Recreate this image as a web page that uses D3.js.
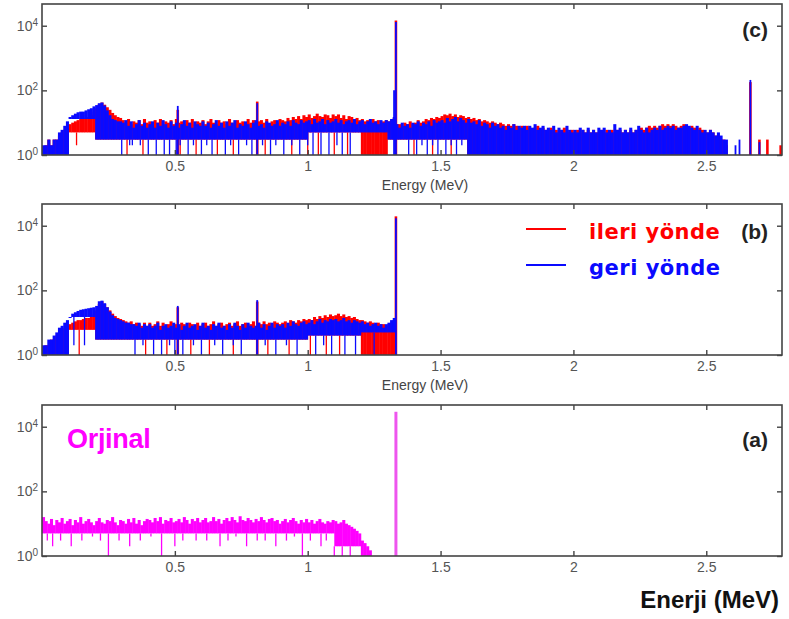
<!DOCTYPE html>
<html>
<head>
<meta charset="utf-8">
<script src="https://cdn.jsdelivr.net/npm/d3@7"></script>
<style>
  body { margin: 0; background: #fff; }
  svg { display: block; font-family: "Liberation Sans", Arial, sans-serif; }
  .axis path { display: none; }
  .axis line { stroke: #444; stroke-width: 1.4; }
  .axis text { fill: #555; font-size: 14px; }
</style>
</head>
<body>
<script>
// spectra are histograms with 0.01 MeV bins starting at 0 MeV (counts per bin)
// the band bottoms ("floor") are read per 0.1 MeV
let binWidth = 0.01;
let floorStep = 0.1;

let xTicks = [0.5, 1, 1.5, 2, 2.5];
let yTicks = [1, 100, 10000];

// ---- (c) ----
let cBlueTop = [
  2,2,3,2,3,3,5,6,8,11, 15,17,19,21,22,22,24,26,28,32, 35,40,42,34,24,17,13,12,11,11,
  10,12,8,11,7,9,12,8,10,7, 9,11,7,10,8,12,9,7,11,8, 10,7,9,12,8,10,7,11,9,8,
  11,8,10,7,9,12,8,10,7,11, 8,10,12,7,9,8,11,9,7,10, 12,8,9,7,11,10,8,9,12,8,
  10,9,11,8,12,10,9,12,10,11, 12,9,13,10,11,13,9,12,10,11, 13,10,12,9,11,12,10,13,9,11,
  12,9,11,13,10,11,9,12,10,12, 11,13,15,9,7,10,8,9,7,10, 9,11,8,10,9,11,8,12,10,11,
  12,10,14,11,13,15,11,14,12,10, 13,10,11,9,12,8,10,9,7,10, 8,9,7,8,6,8,7,9,6,8,
  7,8,6,8,7,9,6,7,8,6, 7,6,8,5,7,6,5,8,6,5, 6,5,7,6,5,7,5,6,5,7,
  6,7,5,6,5,9,6,7,5,6, 5,7,5,6,8,6,5,7,5,6, 7,6,8,6,7,8,7,8,6,7,
  7,8,9,8,7,6,8,6,5,6, 5,6,5,4,5,4,3,3
];
let cRedTop = [
  1,2,3,2,3,3,4,5,6,7, 9,10,11,12,13,13,14,15,17,22, 28,38,42,36,30,25,20,17,15,14,
  12,10,13,9,11,10,12,9,13,10, 11,9,12,10,13,9,11,10,12,9, 13,10,11,9,12,10,13,9,11,10,
  12,9,11,13,10,9,12,10,11,9, 13,10,9,12,10,11,9,13,10,12, 9,11,12,10,13,9,11,12,10,13,
  12,11,14,12,15,13,16,13,17,15, 18,14,16,19,16,15,18,17,14,18, 16,18,14,17,13,16,15,13,14,12,
  13,11,12,10,13,11,12,9,11,12, 11,12,14,9,9,8,10,9,11,9, 10,12,10,11,13,12,14,13,15,14,
  16,18,17,19,16,18,15,17,16,14, 15,13,14,12,13,11,12,11,10,11, 10,9,10,9,8,9,8,9,8,7,
  8,7,8,7,6,7,8,6,7,6, 6,7,6,6,5,6,7,6,5,6, 5,6,5,6,5,6,5,6,5,5,
  6,5,6,5,6,5,6,6,5,6, 5,6,5,6,6,7,6,7,8,7, 8,7,8,9,8,9,8,9,8,7,
  8,9,8,7,8,7,6,7,6,5, 5,6,5,4,4,3,3,2
];
let cBlueFloor = [1, 13, 3, 3, 3, 3, 3, 3, 3, 3, 5, 5, 5, 3, 3, 3, 1, 1, 1, 1, 1, 1, 1, 1, 1, 1];
let cRedFloor  = [1, 5, 3, 3, 3, 3, 3, 3, 3, 3, 5, 5, 1, 3, 3, 3, 1, 1, 1, 1, 1, 1, 1, 1, 1, 1];
// [energy, lowest count] of the single channels that drop out of the band
let cBlueDips = [[0.09,1],[0.30,1],[0.33,2],[0.34,2],[0.37,2],[0.40,1],[0.43,1],[0.46,1],[0.48,1],
  [0.505,1],[0.52,2],[0.55,1],[0.57,2],[0.60,1],[0.62,2],[0.64,1],[0.69,1],[0.71,2],[0.74,1],
  [0.77,2],[0.79,1],[0.83,2],[0.86,1],[0.88,2],[0.91,1],[0.94,2],[0.97,1],[1.00,2],[1.02,1],
  [1.05,1],[1.08,1],[1.11,2],[1.13,1],[1.16,1],[1.38,1],[1.41,1],[1.43,2],[1.45,1],[1.47,2],
  [1.49,1],[1.52,1],[1.54,2],[1.56,1],[1.58,2]];
let cRedDips = [[0.06,1],[0.13,2],[0.32,1],[0.38,1],[0.52,1],[0.58,1],[0.66,1],[0.72,1],[0.84,1],
  [0.94,1],[1.00,1],[1.04,1],[1.10,1],[1.15,1],[1.40,1],[1.47,1],[1.54,1]];
// [energy, counts] of the narrow lines
let cRedLines = [[0.511,25],[0.81,45],[1.332,14500],[2.666,180],[2.70,3],[2.73,3],[2.78,2]];
let cBlueLines = [[0.511,33],[0.81,40],[1.325,100],[1.332,13000],[2.61,2],[2.625,3],[2.666,210],[2.70,2.5]];

// ---- (b) ----
let bBlueTop = [
  2,2,3,3,4,5,7,8,10,12, 15,19,21,23,25,26,27,28,29,30, 33,46,48,40,30,22,17,14,13,12,
  11,10,10,9,9,8,10,7,9,8, 9,7,8,10,6,8,9,7,8,10, 7,9,6,8,10,7,8,9,6,8,
  10,7,8,6,9,8,10,7,8,6, 9,7,10,8,6,9,7,10,8,7, 8,10,7,9,6,8,10,7,9,8,
  9,7,10,8,11,9,8,10,11,9, 10,12,9,11,13,10,12,11,13,12, 13,11,12,14,11,12,10,12,11,10,
  11,9,10,8,9,10,8,9,7,9, 10,12,14
];
let bRedTop = [
  1,2,2,3,3,4,5,6,7,8, 9,10,11,12,12,13,14,14,15,18, 24,38,46,38,30,24,19,16,14,13,
  12,11,10,11,9,10,9,8,10,8, 10,8,9,11,8,10,8,9,11,8, 9,8,10,9,7,10,9,8,10,8,
  9,10,8,9,11,8,9,10,8,9, 10,8,9,11,8,9,10,8,9,11, 8,10,9,11,9,10,9,11,10,9,
  10,11,9,12,11,10,12,11,13,12, 13,12,15,13,16,14,17,15,18,16, 17,19,16,18,15,16,14,15,13,12,
  12,11,10,11,10,9,10,9,9,8, 9,10,12
];
let bBlueFloor = [1, 15, 3, 3, 3, 3, 3, 3, 3, 3, 4, 4, 5, 5];
let bRedFloor  = [1, 6, 3, 3, 3, 3, 3, 3, 3, 3, 4, 4, 1, 1];
let bBlueDips = [[0.06,1],[0.09,1],[0.12,2],[0.16,2],[0.35,1],[0.38,2],[0.42,1],[0.45,1],[0.48,2],
  [0.50,1],[0.53,1],[0.57,2],[0.60,1],[0.65,2],[0.68,1],[0.72,2],[0.75,1],[0.81,1],[0.84,2],
  [0.88,1],[0.92,2],[0.96,1],[1.03,1],[1.06,2],[1.09,1],[1.14,1],[1.18,1],[1.25,1]];
let bRedDips = [[0.04,1],[0.08,1],[0.14,1],[0.39,1],[0.47,1],[0.56,1],[0.63,1],[0.72,1],[0.85,1],
  [0.93,1],[1.01,1],[1.07,1],[1.12,1]];
let bRedLines = [[0.511,30],[0.81,45],[1.332,19500]];
let bBlueLines = [[0.511,33],[0.81,50],[1.332,17000]];

// ---- (a) ----
let aTop = [
  16,12,10,14,9,13,11,15,10,12, 14,9,13,11,16,10,12,14,11,9, 12,15,11,10,13,12,16,11,9,13,
  12,10,14,11,15,10,13,9,12,14, 13,11,15,12,16,10,13,12,15,11, 12,14,11,16,13,10,14,12,15,11,
  13,15,11,12,16,12,14,10,13,15, 12,16,13,11,17,13,12,15,13,11, 14,12,16,13,11,14,15,12,13,10,
  12,14,11,13,15,12,10,13,11,14, 11,13,10,12,14,11,10,12,11,13, 12,10,11,13,10,9,8,7,6,5,
  3,2.5,2,1.5
];
let aFloor = [5, 5, 5, 5, 5, 5, 5, 5, 5, 5, 5, 2, 1];
let aDips = [[0.02,3],[0.04,2],[0.07,3],[0.11,2],[0.15,3],[0.19,4],[0.22,3],[0.25,1],[0.29,3],
  [0.33,2],[0.37,3],[0.41,4],[0.45,1],[0.50,2],[0.53,3],[0.58,3],[0.62,3],[0.67,2],[0.70,3],
  [0.73,4],[0.77,2],[0.81,3],[0.84,3],[0.88,2],[0.92,3],[0.95,4],[0.98,1],[1.01,3],[1.05,2],
  [1.07,3],[1.10,1],[1.13,1],[1.16,1]];
let aLines = [[1.332,29000]];

let w = 789;
let h = 619;
let panelH = 151;
let red = '#ff0000', blue = '#0a0aff', magenta = '#ff00ff';

let svg = d3.select('body').append('svg').attr('width', w).attr('height', h);

let xScale = d3.scaleLinear().domain([0, 2.785]).range([42, 782]);
let barW = xScale(binWidth) - xScale(0);

function floorAt(floors, e) {
  return floors[Math.min(floors.length - 1, Math.floor(e / floorStep + 1e-6))];
}

// draws one spectrum: the noisy band, the dropped channels and the lines
function drawSeries(g, yScale, s) {
  let bins = s.top.map((v, i) => ({ e: i * binWidth, top: v, floor: Math.min(v, floorAt(s.floor, i * binWidth)) }));

  g.append('g').selectAll('rect')
    .data(bins)
    .enter()
    .append('rect')
    .attr('x', (d) => xScale(d.e))
    .attr('width', barW + 0.4)
    .attr('y', (d) => yScale(d.top))
    .attr('height', (d) => Math.max(1, yScale(d.floor) - yScale(d.top)))
    .style('fill', s.color);

  g.append('g').selectAll('line')
    .data(s.dips)
    .enter()
    .append('line')
    .attr('x1', (d) => xScale(d[0]))
    .attr('x2', (d) => xScale(d[0]))
    .attr('y1', (d) => yScale(floorAt(s.floor, d[0])))
    .attr('y2', (d) => yScale(d[1]))
    .style('stroke', s.color)
    .style('stroke-width', 1.3);

  g.append('g').selectAll('line')
    .data(s.lines)
    .enter()
    .append('line')
    .attr('x1', (d) => xScale(d[0]))
    .attr('x2', (d) => xScale(d[0]))
    .attr('y1', yScale(1))
    .attr('y2', (d) => yScale(d[1]))
    .style('stroke', s.lineColor || s.color)
    .style('stroke-width', s.lineW);
}

function drawPanel(p) {
  let yScale = d3.scaleLog().domain([1, 47000]).range([p.top + panelH, p.top]);
  let g = svg.append('g');

  let clipId = 'clip' + p.name;
  svg.append('clipPath').attr('id', clipId)
    .append('rect')
    .attr('x', xScale.range()[0]).attr('y', p.top)
    .attr('width', xScale.range()[1] - xScale.range()[0]).attr('height', panelH);

  let plot = g.append('g').attr('clip-path', `url(#${clipId})`);
  p.series.forEach((s) => drawSeries(plot, yScale, s));

  // axes, ticks pointing inwards like the original
  let xAxis = d3.axisBottom(xScale).tickValues(xTicks).tickSizeInner(-5).tickSizeOuter(0)
    .tickPadding(6).tickFormat(d3.format('~g'));
  g.append('g').attr('class', 'axis')
    .attr('transform', `translate(0, ${p.top + panelH})`)
    .call(xAxis);

  g.append('g').attr('class', 'axis')
    .attr('transform', `translate(0, ${p.top})`)
    .call(d3.axisTop(xScale).tickValues(xTicks).tickSizeInner(-5).tickSizeOuter(0).tickFormat(''));

  let yAxis = d3.axisLeft(yScale).tickValues(yTicks).tickSizeInner(-5).tickSizeOuter(0).tickPadding(4);
  let yAxisGroup = g.append('g').attr('class', 'axis')
    .attr('transform', `translate(${xScale.range()[0]}, 0)`)
    .call(yAxis);
  yAxisGroup.selectAll('.tick text')
    .text(null)
    .each(function (d) {
      let t = d3.select(this);
      t.append('tspan').text('10');
      t.append('tspan').attr('dy', '-0.5em').style('font-size', '10px').text(Math.round(Math.log10(d)));
    });

  g.append('g').attr('class', 'axis')
    .attr('transform', `translate(${xScale.range()[1]}, 0)`)
    .call(d3.axisRight(yScale).tickValues(yTicks).tickSizeInner(-5).tickSizeOuter(0).tickFormat(''));

  // frame
  g.append('rect')
    .attr('x', xScale.range()[0]).attr('y', p.top)
    .attr('width', xScale.range()[1] - xScale.range()[0]).attr('height', panelH)
    .style('fill', 'none').style('stroke', '#444').style('stroke-width', 1.6);

  if (p.energyLabel) {
    g.append('text')
      .attr('x', 425).attr('y', p.top + panelH + 35)
      .attr('text-anchor', 'middle')
      .style('font-size', '14px').style('fill', '#444')
      .text('Energy (MeV)');
  }

  g.append('text')
    .attr('x', 768).attr('y', p.labelY)
    .attr('text-anchor', 'end')
    .style('font-size', '21px').style('font-weight', 'bold').style('fill', '#222')
    .text(p.label);
}

drawPanel({
  name: 'c', top: 4, label: '(c)', labelY: 37, energyLabel: true,
  series: [
    { top: cRedTop, floor: cRedFloor, dips: cRedDips, lines: cRedLines, color: red, lineW: 2.6 },
    { top: cBlueTop, floor: cBlueFloor, dips: cBlueDips, lines: cBlueLines, color: blue, lineW: 1.8 }
  ]
});

drawPanel({
  name: 'b', top: 204, label: '(b)', labelY: 239, energyLabel: true,
  series: [
    { top: bRedTop, floor: bRedFloor, dips: bRedDips, lines: bRedLines, color: red, lineW: 2.6 },
    { top: bBlueTop, floor: bBlueFloor, dips: bBlueDips, lines: bBlueLines, color: blue, lineW: 1.8 }
  ]
});

drawPanel({
  name: 'a', top: 405, label: '(a)', labelY: 447, energyLabel: false,
  series: [
    { top: aTop, floor: aFloor, dips: aDips, lines: aLines, color: magenta, lineColor: '#ee55ee', lineW: 3 }
  ]
});

// legend in panel (b)
let legend = [
  { name: 'ileri yönde', color: red, y: 239 },
  { name: 'geri yönde', color: blue, y: 275 }
];
let lg = svg.append('g');
lg.selectAll('line')
  .data(legend)
  .enter()
  .append('line')
  .attr('x1', 526).attr('x2', 566)
  .attr('y1', (d) => d.y - 10).attr('y2', (d) => d.y - 10)
  .style('stroke', (d) => d.color).style('stroke-width', 2);
lg.selectAll('text')
  .data(legend)
  .enter()
  .append('text')
  .attr('x', 589).attr('y', (d) => d.y)
  .style('font-family', '"DejaVu Sans", Verdana, sans-serif')
  .style('font-size', '21px').style('font-weight', 'bold').style('letter-spacing', '0.5px')
  .style('fill', (d) => d.color)
  .text((d) => d.name);

svg.append('text')
  .attr('x', 67).attr('y', 448)
  .style('font-size', '27px').style('font-weight', 'bold').style('letter-spacing', '-0.3px')
  .style('fill', magenta)
  .text('Orjinal');

svg.append('text')
  .attr('x', 779).attr('y', 608)
  .attr('text-anchor', 'end')
  .style('font-size', '24px').style('font-weight', 'bold').style('fill', '#111')
  .text('Enerji (MeV)');
</script>
